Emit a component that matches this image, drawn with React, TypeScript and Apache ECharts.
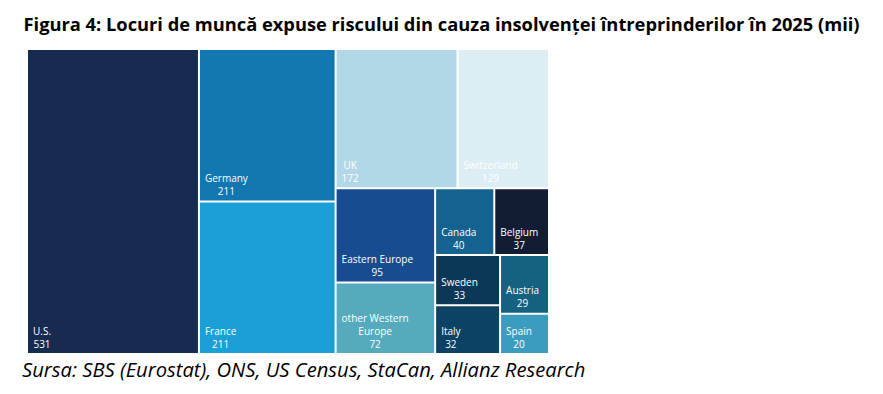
import React, { useEffect, useRef } from "react";
import * as echarts from "echarts";

const titleText = "Figura 4: Locuri de muncă expuse riscului din cauza insolvenței întreprinderilor în 2025 (mii)";
const sourceText = "Sursa: SBS (Eurostat), ONS, US Census, StaCan, Allianz Research";

const regions = [
  "U.S.", "Germany", "France", "UK", "Switzerland", "Eastern Europe",
  "other Western Europe", "Canada", "Belgium", "Sweden", "Italy", "Austria", "Spain",
];
const jobs = [531, 211, 211, 172, 129, 95, 72, 40, 37, 33, 32, 29, 20];
const colors = [
  "#172b51", "#1276b0", "#1b9fd6", "#b2d8e8", "#dcedf4", "#174c90",
  "#55aabd", "#13628f", "#121c33", "#0c3858", "#0c4264", "#14627f", "#3b9cc0",
];

const LABEL_FONT = '10px "Open Sans"';
const LINE_H = 13;

function wrapName(name: string, max: number): string {
  if (name.length <= max) return name;
  const cut = name.lastIndexOf(" ", max);
  if (cut <= 0) return name;
  return name.slice(0, cut) + "\n" + name.slice(cut + 1);
}

export default function App() {
  const ref = useRef<HTMLDivElement>(null);
  useEffect(() => {
    document.body.style.margin = "0";
    const canvas = document.createElement("canvas");
    const ctx = canvas.getContext("2d")!;
    ctx.font = LABEL_FONT;
    const measure = (s: string) => ctx.measureText(s).width;

    const chart = echarts.init(ref.current!, null, { renderer: "svg" });
    const data = regions.map((name, i) => ({
      name,
      value: jobs[i],
      itemStyle: { color: colors[i] },
    }));
    chart.setOption({
      animation: false,
      graphic: [
        {
          type: "text",
          left: "center",
          top: 14,
          style: {
            text: titleText,
            fontFamily: "Open Sans",
            fontWeight: "bold",
            fontSize: 18.3,
            fill: "#000",
          },
        },
        {
          type: "text",
          left: 22,
          top: 359,
          style: {
            text: sourceText,
            fontFamily: "Open Sans",
            fontStyle: "italic",
            fontSize: 20.2,
            fill: "#000",
          },
        },
      ],
      series: [
        {
          type: "treemap",
          left: 28,
          top: 50,
          width: 520,
          height: 303,
          roam: false,
          nodeClick: false,
          sort: false,
          squareRatio: 1,
          breadcrumb: { show: false },
          itemStyle: { borderWidth: 0, gapWidth: 2, borderColor: "#fff" },
          label: {
            show: true,
            color: "#fff",
            fontFamily: "Open Sans",
            fontSize: 10,
            lineHeight: LINE_H,
            formatter: (p: any) => wrapName(p.name, 15) + "\n" + p.value,
          },
          labelLayout: (p: any) => {
            const lines = String(p.text || "").split("\n");
            const w = Math.max(...lines.map(measure));
            return {
              x: p.rect.x + 5 + w / 2,
              y: p.rect.y + p.rect.height - lines.length * LINE_H - 8,
              align: "center",
              verticalAlign: "top",
            };
          },
          data,
        },
      ],
    });
    return () => chart.dispose();
  }, []);
  return <div ref={ref} style={{ width: 883, height: 394 }} />;
}
